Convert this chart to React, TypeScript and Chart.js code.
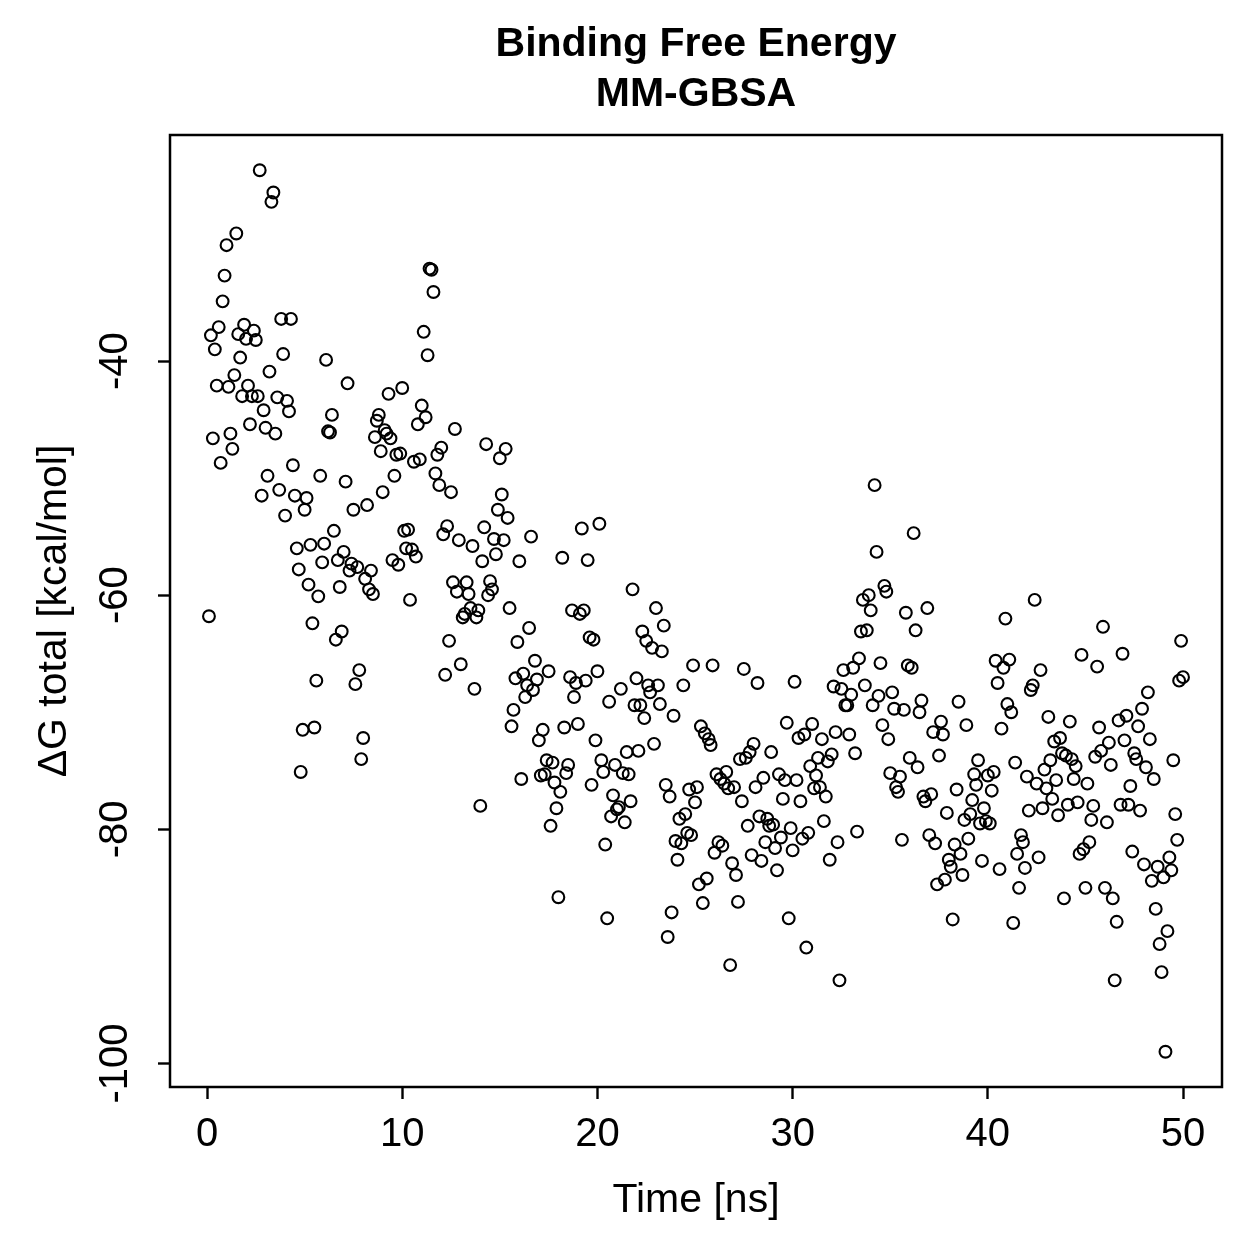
import React, { useEffect, useRef } from "react";
import { Chart, registerables } from "chart.js";

Chart.register(...registerables);

// Labels
const chartTitle = ["Binding Free Energy", "MM-GBSA"];
const xAxisTitle = "Time [ns]";
const yAxisTitle = "ΔG total [kcal/mol]";
const xTicks = [0, 10, 20, 30, 40, 50];
const yTicks = [-100, -80, -60, -40];

// Simulation time of each frame (ns)
const timeNs = [
  0.1, 0.2, 0.3, 0.4, 0.5, 0.6, 0.7, 0.8, 0.9, 1.0,
  1.1, 1.2, 1.3, 1.4, 1.5, 1.6, 1.7, 1.8, 1.9, 2.0,
  2.1, 2.2, 2.3, 2.4, 2.5, 2.6, 2.7, 2.8, 2.9, 3.0,
  3.1, 3.2, 3.3, 3.4, 3.5, 3.6, 3.7, 3.8, 3.9, 4.0,
  4.1, 4.2, 4.3, 4.4, 4.5, 4.6, 4.7, 4.8, 4.9, 5.0,
  5.1, 5.2, 5.3, 5.4, 5.5, 5.6, 5.7, 5.8, 5.9, 6.0,
  6.1, 6.2, 6.3, 6.4, 6.5, 6.6, 6.7, 6.8, 6.9, 7.0,
  7.1, 7.2, 7.3, 7.4, 7.5, 7.6, 7.7, 7.8, 7.9, 8.0,
  8.1, 8.2, 8.3, 8.4, 8.5, 8.6, 8.7, 8.8, 8.9, 9.0,
  9.1, 9.2, 9.3, 9.4, 9.5, 9.6, 9.7, 9.8, 9.9, 10.0,
  10.1, 10.2, 10.3, 10.4, 10.5, 10.6, 10.7, 10.8, 10.9, 11.0,
  11.1, 11.2, 11.3, 11.4, 11.5, 11.6, 11.7, 11.8, 11.9, 12.0,
  12.1, 12.2, 12.3, 12.4, 12.5, 12.6, 12.7, 12.8, 12.9, 13.0,
  13.1, 13.2, 13.3, 13.4, 13.5, 13.6, 13.7, 13.8, 13.9, 14.0,
  14.1, 14.2, 14.3, 14.4, 14.5, 14.6, 14.7, 14.8, 14.9, 15.0,
  15.1, 15.2, 15.3, 15.4, 15.5, 15.6, 15.7, 15.8, 15.9, 16.0,
  16.1, 16.2, 16.3, 16.4, 16.5, 16.6, 16.7, 16.8, 16.9, 17.0,
  17.1, 17.2, 17.3, 17.4, 17.5, 17.6, 17.7, 17.8, 17.9, 18.0,
  18.1, 18.2, 18.3, 18.4, 18.5, 18.6, 18.7, 18.8, 18.9, 19.0,
  19.1, 19.2, 19.3, 19.4, 19.5, 19.6, 19.7, 19.8, 19.9, 20.0,
  20.1, 20.2, 20.3, 20.4, 20.5, 20.6, 20.7, 20.8, 20.9, 21.0,
  21.1, 21.2, 21.3, 21.4, 21.5, 21.6, 21.7, 21.8, 21.9, 22.0,
  22.1, 22.2, 22.3, 22.4, 22.5, 22.6, 22.7, 22.8, 22.9, 23.0,
  23.1, 23.2, 23.3, 23.4, 23.5, 23.6, 23.7, 23.8, 23.9, 24.0,
  24.1, 24.2, 24.3, 24.4, 24.5, 24.6, 24.7, 24.8, 24.9, 25.0,
  25.1, 25.2, 25.3, 25.4, 25.5, 25.6, 25.7, 25.8, 25.9, 26.0,
  26.1, 26.2, 26.3, 26.4, 26.5, 26.6, 26.7, 26.8, 26.9, 27.0,
  27.1, 27.2, 27.3, 27.4, 27.5, 27.6, 27.7, 27.8, 27.9, 28.0,
  28.1, 28.2, 28.3, 28.4, 28.5, 28.6, 28.7, 28.8, 28.9, 29.0,
  29.1, 29.2, 29.3, 29.4, 29.5, 29.6, 29.7, 29.8, 29.9, 30.0,
  30.1, 30.2, 30.3, 30.4, 30.5, 30.6, 30.7, 30.8, 30.9, 31.0,
  31.1, 31.2, 31.3, 31.4, 31.5, 31.6, 31.7, 31.8, 31.9, 32.0,
  32.1, 32.2, 32.3, 32.4, 32.5, 32.6, 32.7, 32.8, 32.9, 33.0,
  33.1, 33.2, 33.3, 33.4, 33.5, 33.6, 33.7, 33.8, 33.9, 34.0,
  34.1, 34.2, 34.3, 34.4, 34.5, 34.6, 34.7, 34.8, 34.9, 35.0,
  35.1, 35.2, 35.3, 35.4, 35.5, 35.6, 35.7, 35.8, 35.9, 36.0,
  36.1, 36.2, 36.3, 36.4, 36.5, 36.6, 36.7, 36.8, 36.9, 37.0,
  37.1, 37.2, 37.3, 37.4, 37.5, 37.6, 37.7, 37.8, 37.9, 38.0,
  38.1, 38.2, 38.3, 38.4, 38.5, 38.6, 38.7, 38.8, 38.9, 39.0,
  39.1, 39.2, 39.3, 39.4, 39.5, 39.6, 39.7, 39.8, 39.9, 40.0,
  40.1, 40.2, 40.3, 40.4, 40.5, 40.6, 40.7, 40.8, 40.9, 41.0,
  41.1, 41.2, 41.3, 41.4, 41.5, 41.6, 41.7, 41.8, 41.9, 42.0,
  42.1, 42.2, 42.3, 42.4, 42.5, 42.6, 42.7, 42.8, 42.9, 43.0,
  43.1, 43.2, 43.3, 43.4, 43.5, 43.6, 43.7, 43.8, 43.9, 44.0,
  44.1, 44.2, 44.3, 44.4, 44.5, 44.6, 44.7, 44.8, 44.9, 45.0,
  45.1, 45.2, 45.3, 45.4, 45.5, 45.6, 45.7, 45.8, 45.9, 46.0,
  46.1, 46.2, 46.3, 46.4, 46.5, 46.6, 46.7, 46.8, 46.9, 47.0,
  47.1, 47.2, 47.3, 47.4, 47.5, 47.6, 47.7, 47.8, 47.9, 48.0,
  48.1, 48.2, 48.3, 48.4, 48.5, 48.6, 48.7, 48.8, 48.9, 49.0,
  49.1, 49.2, 49.3, 49.4, 49.5, 49.6, 49.7, 49.8, 49.9, 50.0,
];

// MM-GBSA total binding free energy per frame (kcal/mol)
const deltaG = [
  -61.8, -37.8, -46.6, -39.0, -42.1, -37.1, -48.7, -34.9, -32.7, -30.1,
  -42.2, -46.2, -47.5, -41.2, -29.1, -37.7, -39.7, -43.0, -36.9, -38.1,
  -42.1, -45.4, -43.0, -37.4, -38.2, -43.0, -23.7, -51.5, -44.2, -45.7,
  -49.8, -40.9, -26.4, -25.6, -46.2, -43.1, -51.0, -36.4, -39.4, -53.2,
  -43.4, -44.3, -36.4, -48.9, -51.5, -56.0, -57.8, -75.1, -71.5, -52.7,
  -51.7, -59.1, -55.7, -62.4, -71.3, -67.3, -60.1, -49.8, -57.2, -55.6,
  -39.9, -46.0, -46.1, -44.6, -54.5, -63.8, -57.0, -59.3, -63.1, -56.3,
  -50.3, -41.9, -57.9, -57.3, -52.7, -67.6, -57.6, -66.4, -74.0, -72.2,
  -58.6, -52.3, -59.5, -57.9, -59.9, -46.5, -45.1, -44.6, -47.7, -51.2,
  -45.9, -46.2, -42.8, -46.6, -57.0, -49.8, -48.0, -57.4, -47.9, -42.3,
  -54.5, -56.0, -54.4, -60.4, -56.1, -48.6, -56.7, -45.4, -48.4, -43.8,
  -37.5, -44.8, -39.5, -32.1, -32.2, -34.1, -49.6, -48.0, -50.6, -47.4,
  -54.8, -66.8, -54.1, -63.9, -51.2, -58.9, -45.8, -59.7, -55.3, -65.9,
  -61.9, -61.6, -58.9, -59.9, -61.1, -55.8, -68.0, -61.9, -61.3, -78.0,
  -57.1, -54.2, -47.1, -60.0, -58.8, -59.5, -55.2, -56.5, -52.7, -48.3,
  -51.4, -55.3, -47.5, -53.4, -61.1, -71.2, -69.8, -67.1, -64.0, -57.1,
  -75.7, -66.7, -68.7, -67.7, -62.8, -55.0, -68.1, -65.6, -67.2, -72.4,
  -75.4, -71.5, -75.3, -74.1, -66.5, -79.7, -74.3, -76.0, -78.2, -85.8,
  -76.8, -56.8, -71.3, -75.2, -74.5, -67.0, -61.3, -68.7, -67.5, -71.0,
  -61.6, -54.3, -61.3, -67.3, -57.0, -63.6, -76.2, -63.8, -72.4, -66.5,
  -53.9, -74.1, -75.1, -81.3, -87.6, -69.1, -78.9, -77.1, -74.5, -78.3,
  -78.1, -68.0, -75.2, -79.4, -73.4, -75.3, -77.6, -59.5, -69.4, -67.1,
  -73.3, -69.4, -63.1, -70.5, -63.9, -67.7, -68.3, -64.5, -72.7, -61.1,
  -67.7, -69.3, -64.8, -62.6, -76.2, -89.2, -77.2, -87.1, -70.3, -81.0,
  -82.6, -79.1, -81.2, -67.7, -78.7, -80.3, -76.6, -80.5, -66.0, -77.7,
  -76.4, -84.7, -71.2, -86.3, -71.8, -84.2, -72.3, -72.8, -66.0, -82.0,
  -75.3, -81.1, -75.7, -81.4, -76.1, -75.1, -76.5, -91.6, -82.9, -76.4,
  -83.9, -86.2, -74.0, -77.6, -66.3, -73.9, -79.7, -73.4, -82.2, -72.7,
  -76.4, -67.5, -78.9, -82.7, -75.6, -81.1, -79.1, -79.7, -73.4, -79.6,
  -81.6, -83.5, -75.3, -80.7, -77.4, -75.8, -70.9, -87.6, -79.9, -81.8,
  -67.4, -75.8, -72.2, -77.6, -80.8, -71.9, -90.1, -80.3, -74.6, -71.0,
  -76.5, -75.4, -73.9, -76.4, -72.3, -79.3, -77.2, -74.2, -82.6, -73.6,
  -67.8, -71.7, -81.1, -92.9, -68.0, -66.4, -69.4, -69.4, -71.9, -68.5,
  -66.2, -73.5, -80.2, -65.4, -63.1, -60.4, -67.7, -63.0, -60.0, -61.3,
  -69.4, -50.6, -56.3, -68.6, -65.8, -71.1, -59.2, -59.7, -72.3, -75.2,
  -68.3, -69.7, -76.4, -76.8, -75.5, -80.9, -69.8, -61.5, -66.0, -73.9,
  -66.2, -54.7, -63.0, -74.7, -70.0, -69.0, -77.2, -77.6, -61.1, -80.5,
  -77.0, -71.7, -81.2, -84.7, -73.7, -70.8, -71.9, -84.3, -78.6, -82.6,
  -83.2, -87.7, -81.3, -76.6, -69.1, -82.1, -83.9, -79.2, -71.1, -80.8,
  -78.7, -77.5, -75.3, -76.2, -74.1, -79.5, -82.7, -78.2, -79.3, -75.4,
  -79.5, -76.7, -75.1, -65.6, -67.5, -83.4, -71.4, -66.2, -62.0, -69.3,
  -65.5, -70.0, -88.0, -74.3, -82.1, -85.0, -80.5, -81.1, -83.3, -75.5,
  -78.4, -68.1, -67.7, -60.4, -76.1, -82.4, -66.4, -78.2, -74.9, -76.5,
  -70.4, -74.1, -77.4, -72.5, -75.8, -78.8, -72.2, -73.5, -85.9, -73.7,
  -77.9, -70.8, -74.0, -75.7, -74.6, -77.7, -82.1, -65.1, -81.7, -85.0,
  -76.1, -81.1, -79.2, -78.0, -73.8, -66.1, -71.3, -73.3, -62.7, -85.0,
  -79.4, -72.6, -74.5, -85.9, -92.9, -87.9, -70.7, -77.9, -65.0, -72.4,
  -70.3, -77.9, -76.3, -81.9, -73.5, -74.0, -71.2, -78.4, -69.7, -83.0,
  -74.7, -68.3, -72.3, -84.4, -75.7, -86.8, -83.2, -89.8, -92.2, -84.1,
  -99.0, -88.7, -82.4, -83.5, -74.1, -78.7, -80.9, -67.3, -63.9, -67.0,
];

const FONT = "'Liberation Sans', Arial, Helvetica, sans-serif";
const W = 1259;
const H = 1259;

// Axis limits padded by 4% of the data range on each side
function paddedRange(values: number[]): [number, number] {
  const lo = Math.min(...values);
  const hi = Math.max(...values);
  const pad = (hi - lo) * 0.04;
  return [lo - pad, hi + pad];
}

// Closed frame around the plotting region
const frameBox = {
  id: "frameBox",
  afterDraw(chart: any) {
    const { ctx, chartArea: a } = chart;
    ctx.save();
    ctx.strokeStyle = "#000";
    ctx.lineWidth = 2.5;
    ctx.strokeRect(a.left, a.top, a.right - a.left, a.bottom - a.top);
    ctx.restore();
  },
};

export default function App() {
  const canvasRef = useRef<HTMLCanvasElement | null>(null);

  useEffect(() => {
    const canvas = canvasRef.current;
    if (!canvas) return;
    const [xMin, xMax] = paddedRange(timeNs);
    const [yMin, yMax] = paddedRange(deltaG);
    const points = timeNs.map((t, i) => ({ x: t, y: deltaG[i] }));

    const tickGrid = {
      display: true,
      drawOnChartArea: false,
      drawTicks: true,
      tickLength: 12,
      tickWidth: 2.4,
      tickColor: "#000",
    };

    const chart = new Chart(canvas, {
      type: "scatter",
      data: {
        datasets: [
          {
            data: points,
            pointRadius: 5.9,
            pointHoverRadius: 5.9,
            pointBorderWidth: 2.1,
            pointBorderColor: "#000",
            pointBackgroundColor: "rgba(0,0,0,0)",
            showLine: false,
          },
        ],
      },
      options: {
        responsive: false,
        animation: false,
        devicePixelRatio: 1,
        layout: { padding: { left: 0, right: 37, top: 0, bottom: 0 } },
        plugins: {
          legend: { display: false },
          tooltip: { enabled: false },
          title: {
            display: true,
            fullSize: false,
            text: chartTitle,
            color: "#000",
            font: { family: FONT, size: 41, weight: "bold", lineHeight: 50 / 41 },
            padding: { top: 20, bottom: 15 },
          },
        },
        scales: {
          x: {
            type: "linear",
            min: xMin,
            max: xMax,
            afterBuildTicks: (s: any) => {
              s.ticks = xTicks.map((v) => ({ value: v }));
            },
            afterFit: (s: any) => {
              s.height = 172;
            },
            ticks: {
              color: "#000",
              font: { family: FONT, size: 40 },
              padding: 12,
              maxRotation: 0,
              autoSkip: false,
              callback: (v: any) => String(v),
            },
            grid: tickGrid,
            border: { display: false },
            title: {
              display: true,
              text: xAxisTitle,
              color: "#000",
              font: { family: FONT, size: 41 },
              padding: { top: 0, bottom: 34 },
            },
          },
          y: {
            type: "linear",
            position: "left",
            min: yMin,
            max: yMax,
            afterBuildTicks: (s: any) => {
              s.ticks = yTicks.map((v) => ({ value: v }));
            },
            afterFit: (s: any) => {
              s.width = 170;
            },
            ticks: {
              color: "#000",
              font: { family: FONT, size: 40 },
              padding: 2,
              minRotation: 90,
              maxRotation: 90,
              crossAlign: "center",
              autoSkip: false,
              callback: (v: any) => String(v),
            },
            grid: tickGrid,
            border: { display: false },
            title: {
              display: true,
              text: yAxisTitle,
              color: "#000",
              font: { family: FONT, size: 41 },
              padding: { top: 30, bottom: 0 },
            },
          },
        },
      },
      plugins: [frameBox],
    } as any);

    return () => chart.destroy();
  }, []);

  return (
    <div
      style={{
        position: "fixed",
        left: 0,
        top: 0,
        width: W,
        height: H,
        background: "#fff",
      }}
    >
      <canvas ref={canvasRef} width={W} height={H} style={{ display: "block" }} />
    </div>
  );
}
